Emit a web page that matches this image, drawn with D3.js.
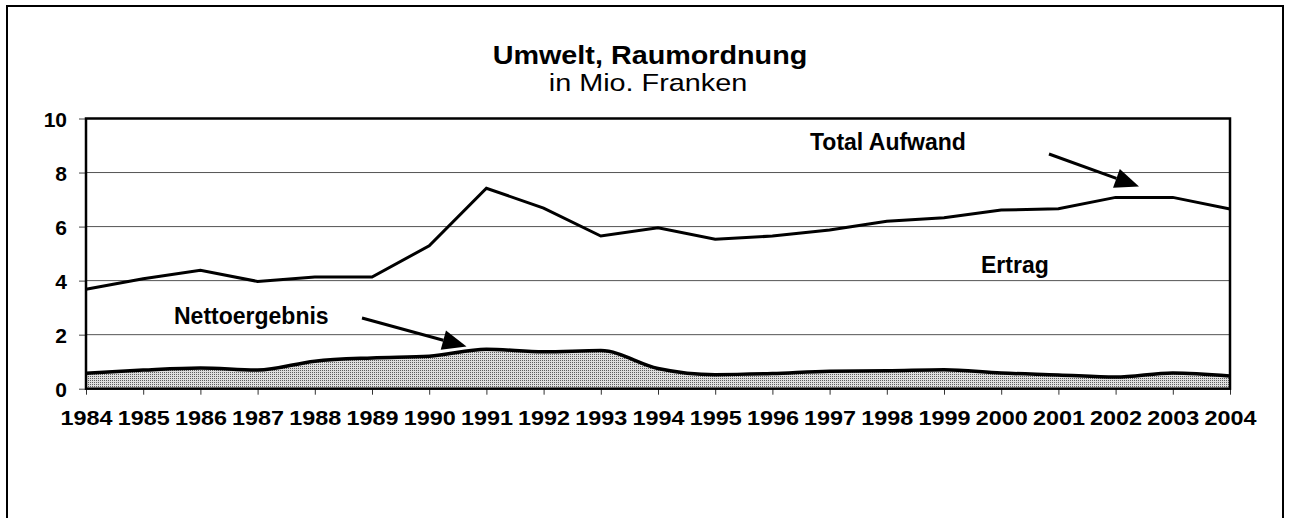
<!DOCTYPE html>
<html>
<head>
<meta charset="utf-8">
<script src="https://cdn.jsdelivr.net/npm/d3@7"></script>
<style>
  body { margin: 0; background: #fff; }
  text { font-family: "Liberation Sans", Arial, sans-serif; }
</style>
</head>
<body>
<div id="chart"></div>
<script>
// data, Mio. Franken
var years = [1984, 1985, 1986, 1987, 1988, 1989, 1990, 1991, 1992, 1993, 1994,
             1995, 1996, 1997, 1998, 1999, 2000, 2001, 2002, 2003, 2004]
var totalAufwand = [3.68, 4.07, 4.38, 3.97, 4.13, 4.13, 5.29, 7.42, 6.68, 5.65, 5.96,
                    5.53, 5.65, 5.87, 6.20, 6.33, 6.61, 6.66, 7.08, 7.08, 6.65]
var nettoergebnis = [0.57, 0.69, 0.77, 0.69, 1.02, 1.14, 1.20, 1.46, 1.37, 1.41, 0.75,
                     0.52, 0.56, 0.65, 0.66, 0.70, 0.58, 0.51, 0.43, 0.58, 0.47]
var yTicks = [0, 2, 4, 6, 8, 10]

var W = 1289, H = 518
var plot = {left: 86, right: 1230, top: 118.5, bottom: 388.7}

var svg = d3.select("#chart")
    .append("svg")
        .attr("width", W)
        .attr("height", H)

// stipple for the Nettoergebnis area
var pat = svg.append("defs")
    .append("pattern")
        .attr("id", "dots")
        .attr("width", 2)
        .attr("height", 2)
        .attr("patternUnits", "userSpaceOnUse")
pat.append("rect").attr("width", 2).attr("height", 2).attr("fill", "#dedede")
pat.append("rect").attr("x", 0).attr("y", 0).attr("width", 1).attr("height", 1).attr("fill", "#5e5e5e")

// outer frame
svg.append("rect")
    .attr("x", 7).attr("y", 6)
    .attr("width", 1276).attr("height", 540)
    .attr("fill", "none")
    .attr("stroke", "#000")
    .attr("stroke-width", 2)

var x = d3.scaleLinear()
    .domain([1984, 2004])
    .range([plot.left, plot.right])

var y = d3.scaleLinear()
    .domain([0, 10])
    .range([plot.bottom, plot.top])

// grid
svg.append("g")
    .selectAll("line")
    .data(yTicks.filter(d => d > 0 && d < 10))
    .enter()
    .append("line")
        .attr("x1", plot.left).attr("x2", plot.right)
        .attr("y1", d => y(d)).attr("y2", d => y(d))
        .attr("stroke", "#555")
        .attr("stroke-width", 1)

// y axis
var yAxis = svg.append("g")
    .attr("transform", "translate(" + plot.left + ",0)")
    .call(d3.axisLeft(y).tickValues(yTicks).tickSize(7).tickPadding(12).tickFormat(d3.format("d")))
yAxis.select(".domain").remove()
yAxis.selectAll(".tick line").attr("stroke", "#444")
yAxis.selectAll("text")
    .attr("fill", "#000")
    .style("font-size", "21px")
    .style("font-weight", "bold")
    .attr("dy", "0.36em")

// x axis
var xAxis = svg.append("g")
    .attr("transform", "translate(0," + plot.bottom + ")")
    .call(d3.axisBottom(x).tickValues(years).tickSize(6).tickPadding(16).tickFormat(d3.format("d")))
xAxis.select(".domain").remove()
xAxis.selectAll(".tick line").attr("stroke", "#333")
xAxis.selectAll("text")
    .attr("fill", "#000")
    .style("font-size", "20px")
    .style("font-weight", "bold")
    .attr("transform", "scale(1.17,1)")

// Nettoergebnis area
var area = d3.area()
    .x((d, i) => x(years[i]))
    .y0(y(0))
    .y1(d => y(d))
    .curve(d3.curveMonotoneX)
svg.append("path")
    .datum(nettoergebnis)
    .attr("d", area)
    .attr("fill", "url(#dots)")

svg.append("path")
    .datum(nettoergebnis)
    .attr("d", d3.line().x((d, i) => x(years[i])).y(d => y(d)).curve(d3.curveMonotoneX))
    .attr("fill", "none")
    .attr("stroke", "#000")
    .attr("stroke-width", 3.5)

// Total Aufwand line
svg.append("path")
    .datum(totalAufwand)
    .attr("d", d3.line().x((d, i) => x(years[i])).y(d => y(d)))
    .attr("fill", "none")
    .attr("stroke", "#000")
    .attr("stroke-width", 3)
    .attr("stroke-linejoin", "miter")

// plot frame (top, right, left, bottom)
svg.append("rect")
    .attr("x", plot.left).attr("y", plot.top)
    .attr("width", plot.right - plot.left)
    .attr("height", plot.bottom - plot.top)
    .attr("fill", "none")
    .attr("stroke", "#000")
    .attr("stroke-width", 2.5)

// titles
svg.append("text")
    .attr("x", 650).attr("y", 64)
    .attr("text-anchor", "middle")
    .style("font-size", "25px")
    .style("font-weight", "bold")
    .attr("transform", "translate(650,0) scale(1.15,1) translate(-650,0)")
    .text("Umwelt, Raumordnung")
svg.append("text")
    .attr("x", 648).attr("y", 91)
    .attr("text-anchor", "middle")
    .style("font-size", "24px")
    .attr("transform", "translate(648,0) scale(1.2,1) translate(-648,0)")
    .text("in Mio. Franken")

// annotations
function label(tx, ty, str) {
    svg.append("text")
        .attr("x", tx).attr("y", ty)
        .style("font-size", "23px")
        .style("font-weight", "bold")
        .text(str)
}
label(810, 150, "Total Aufwand")
label(981, 273, "Ertrag")
label(174, 324, "Nettoergebnis")

function arrow(x1, y1, x2, y2) {
    var a = Math.atan2(y2 - y1, x2 - x1)
    var len = 24, half = 10
    var bx = x2 - len * Math.cos(a), by = y2 - len * Math.sin(a)
    svg.append("line")
        .attr("x1", x1).attr("y1", y1)
        .attr("x2", bx).attr("y2", by)
        .attr("stroke", "#000")
        .attr("stroke-width", 3)
    svg.append("path")
        .attr("d", "M" + x2 + "," + y2 +
            "L" + (bx + half * Math.sin(a)) + "," + (by - half * Math.cos(a)) +
            "L" + (bx - half * Math.sin(a)) + "," + (by + half * Math.cos(a)) + "Z")
        .attr("fill", "#000")
}
arrow(1049, 154, 1139, 186.5)
arrow(362, 318, 466.5, 346.5)
</script>
</body>
</html>
